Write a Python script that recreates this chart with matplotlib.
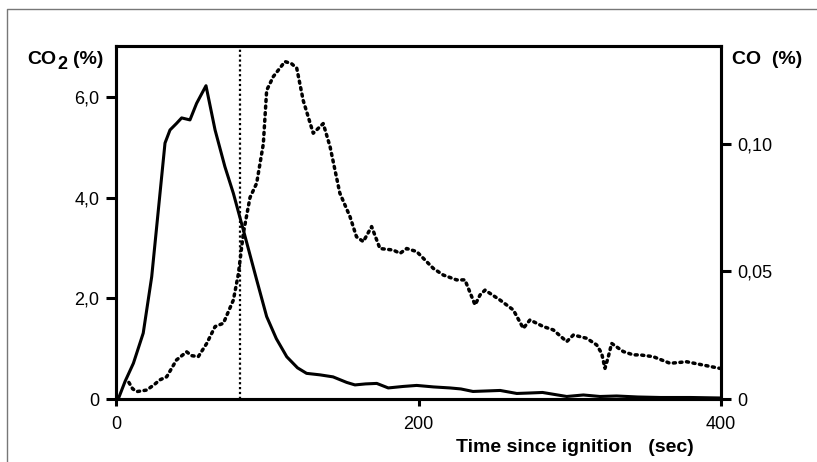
import matplotlib
matplotlib.use("Agg")
import matplotlib.pyplot as plt
from matplotlib.lines import Line2D

plt.rcParams['font.family'] = ['Liberation Sans', 'DejaVu Sans']

# CO2 (%) - solid line, left axis
t_co2 = [1.5, 6, 11.5, 18, 23.6, 28, 32.4, 35.7, 40, 43.4, 48.9, 53.3, 59.5, 65.5, 72, 77.6,
         84.2, 93, 99.6, 106, 112.9, 120, 126, 134.9, 143.5, 152.5, 158, 165, 172.4, 180,
         190, 198.8, 210, 220.8, 228, 236, 245, 254, 265, 274, 282, 290, 298, 309, 320,
         331, 345, 360, 380, 400]
co2 = [0.0, 0.35, 0.71, 1.31, 2.43, 3.76, 5.09, 5.35, 5.48, 5.59, 5.55, 5.88, 6.23, 5.35, 4.62, 4.09,
       3.36, 2.37, 1.64, 1.2, 0.84, 0.62, 0.51, 0.48, 0.44, 0.33, 0.28, 0.3, 0.31, 0.22,
       0.25, 0.27, 0.24, 0.22, 0.2, 0.15, 0.16, 0.17, 0.11, 0.12, 0.13, 0.09, 0.05, 0.08, 0.05,
       0.06, 0.04, 0.03, 0.03, 0.02]

# CO (%) - dotted line, right axis
t_co = [8.5, 11, 13.7, 20.3, 25, 29, 33.5, 40, 46.7, 50, 54.4, 60, 65.5, 71, 77.6, 80.9, 84.2,
        88.6, 93, 97.4, 99.6, 104, 111.7, 116, 119.5, 123.8, 130.4, 137, 141.5, 148, 154.7,
        159, 163.5, 169, 174.5, 183.3, 187.8, 192.2, 198.8, 209.8, 216.4, 225.2, 230.7,
        235.2, 237.4, 240.7, 244, 253.9, 262.7, 269.3, 273.7, 282.5, 289.1, 298, 302.4,
        311.2, 317.8, 321.1, 323.3, 325.5, 327.7, 335.4, 342, 346.4, 355.2, 366.3, 377.3,
        388.3, 399.3]
co = [0.0065, 0.004, 0.0029, 0.0035, 0.0055, 0.0075, 0.0087, 0.0153, 0.0185, 0.017, 0.0166,
      0.0218, 0.0284, 0.0297, 0.0388, 0.049, 0.065, 0.079, 0.0846, 0.100, 0.121, 0.1264,
      0.1323, 0.1315, 0.1297, 0.117, 0.1042, 0.108, 0.099, 0.0807, 0.0715, 0.0636, 0.0617,
      0.0676, 0.059, 0.0584, 0.0571, 0.059, 0.0578, 0.0512, 0.0486, 0.0467, 0.0467, 0.0401,
      0.0369, 0.0408, 0.0427, 0.0388, 0.0349, 0.0277, 0.031, 0.0284, 0.0271, 0.0225, 0.0251,
      0.0238, 0.0212, 0.0179, 0.012, 0.0166, 0.0218, 0.0186, 0.0173, 0.0173, 0.0166, 0.014,
      0.0146, 0.0133, 0.012]

t_marker = 82

x_ticks = [0, 200, 400]
left_ticks = [0, 2, 4, 6]
left_labels = ['0', '2,0', '4,0', '6,0']
right_ticks = [0, 0.05, 0.10]
right_labels = ['0', '0,05', '0,10']

W, H = 817, 462
fig = plt.figure(figsize=(W / 100, H / 100), dpi=100)
ax = fig.add_axes([116 / W, 1 - 399 / H, (721 - 116) / W, (399 - 46) / H])
ax2 = ax.twinx()

ax.plot(t_co2, co2, color='black', lw=2.2, solid_joinstyle='round')
ax2.plot(t_co, co, color='black', lw=2.5, linestyle=(0, (0.6, 1.3)), dash_capstyle='round')
ax.axvline(t_marker, color='black', lw=1.6, linestyle=(0, (1, 1.2)))

ax.set_xlim(0, 400)
ax.set_ylim(0, 7.02)
ax2.set_ylim(0, 0.1384)

ax.set_xticks(x_ticks)
ax.set_xticklabels([str(v) for v in x_ticks])
ax.set_yticks(left_ticks)
ax.set_yticklabels(left_labels)
ax2.set_yticks(right_ticks)
ax2.set_yticklabels(right_labels)

for a in (ax, ax2):
    for s in a.spines.values():
        s.set_linewidth(2.2)
    a.tick_params(width=2.2, labelsize=13, direction='out')
ax.tick_params(axis='y', length=7, pad=5)
ax2.tick_params(axis='y', length=7, pad=5)
ax.tick_params(axis='x', length=5, pad=7)

# CO2 label with lowered "2", pieces chained one after another
t1 = fig.text(27 / W, 1 - 60 / H, 'CO', fontsize=14, fontweight='bold', ha='left', va='center')
t2 = ax.annotate('2', xy=(1, 0.5), xycoords=t1, xytext=(1, -3), textcoords='offset points',
                 fontsize=13, fontweight='bold', ha='left', va='center', annotation_clip=False)
ax.annotate('(%)', xy=(1, 0.5), xycoords=t2, xytext=(4, 3), textcoords='offset points',
            fontsize=14, fontweight='bold', ha='left', va='center', annotation_clip=False)

fig.text(732 / W, 1 - 60 / H, 'CO  (%)', fontsize=14, fontweight='bold', ha='left', va='center')
fig.text(575 / W, 1 - 448 / H, 'Time since ignition   (sec)', fontsize=14,
         fontweight='bold', ha='center', va='center')

# outer frame (top and left edges)
fig.add_artist(Line2D([7 / W, 7 / W, 1], [0, 1 - 9 / H, 1 - 9 / H],
                      color='#777777', lw=1.0, transform=fig.transFigure))

fig.savefig('out.png', dpi=100)
